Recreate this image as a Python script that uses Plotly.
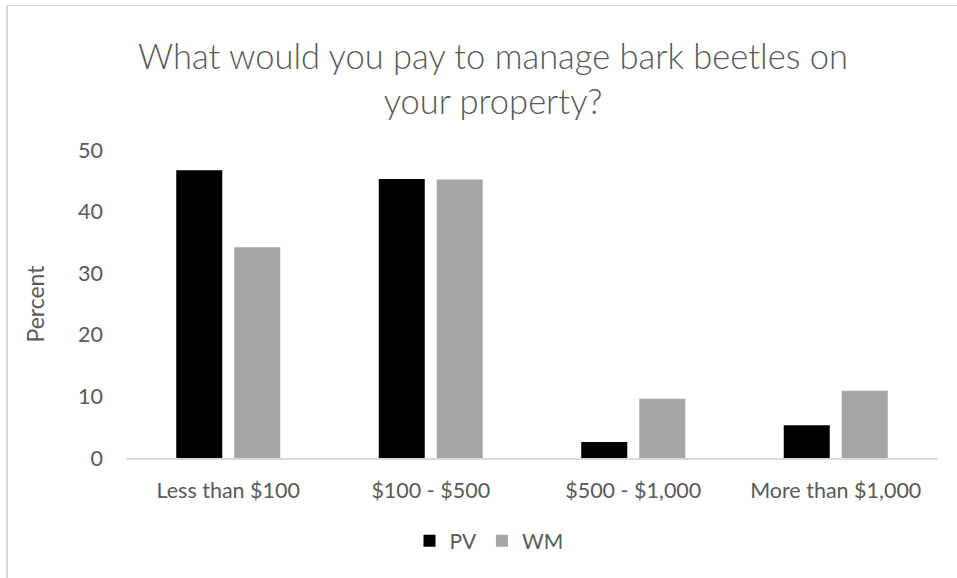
import plotly.graph_objects as go

# Survey responses: willingness to pay for bark beetle management
categories = ["Less than $100", "$100 - $500", "$500 - $1,000", "More than $1,000"]
pv_values = [46.7, 45.3, 2.6, 5.3]
wm_values = [34.2, 45.2, 9.6, 10.9]
y_ticks = [0, 10, 20, 30, 40, 50]

W, H = 957, 578
L, R, T, B = 127, 20, 150, 120
plot_w = W - L - R
plot_h = H - T - B

def px_x(x):
    return (x - L) / plot_w

def px_y(y):
    return (H - B - y) / plot_h

text_color = "#595959"
font_family = "Lato, 'Open Sans', sans-serif"

fig = go.Figure()
fig.add_trace(go.Bar(x=categories, y=pv_values, name="PV",
                     marker=dict(color="#000000", line=dict(width=0))))
fig.add_trace(go.Bar(x=categories, y=wm_values, name="WM",
                     marker=dict(color="#a5a5a5", line=dict(width=0))))

fig.update_layout(
    width=W, height=H,
    margin=dict(l=L, r=R, t=T, b=B, autoexpand=False),
    paper_bgcolor="white", plot_bgcolor="white",
    barmode="group", bargap=0.427, bargroupgap=0.207,
    font=dict(family=font_family, color=text_color, size=21),
    title=dict(
        text="What would you pay to manage bark beetles on<br>your property?",
        x=px_x(493), xref="paper", xanchor="center",
        y=(H - 69) / H, yanchor="middle", yref="container",
        font=dict(size=34.5, color=text_color, family=font_family, weight=300),
    ),
    xaxis=dict(
        showline=True, linecolor="#d9d9d9", linewidth=1.5,
        ticks="", showgrid=False, zeroline=False,
        tickfont=dict(size=21.5, color=text_color),
        ticklabelstandoff=12,
    ),
    yaxis=dict(
        range=[0, 50], tickvals=y_ticks, showgrid=False, zeroline=False,
        showline=False, ticks="",
        tickfont=dict(size=21.5, color=text_color),
        ticklabelstandoff=23,
        title=dict(text="Percent", font=dict(size=23, color=text_color), standoff=26),
    ),
    legend=dict(
        orientation="h", x=px_x(489), xanchor="center",
        y=px_y(541), yanchor="middle",
        font=dict(size=21, color=text_color),
        itemwidth=30, traceorder="normal",
    ),
    showlegend=True,
)

# Chart-area border (left and top edges)
fig.add_shape(type="line", xref="paper", yref="paper",
              x0=px_x(7), x1=px_x(7), y0=px_y(H + 5), y1=px_y(5),
              line=dict(color="#d9d9d9", width=2))
fig.add_shape(type="line", xref="paper", yref="paper",
              x0=px_x(6), x1=px_x(W + 5), y0=px_y(5.5), y1=px_y(5.5),
              line=dict(color="#d9d9d9", width=1))

fig.write_html("out.html")
